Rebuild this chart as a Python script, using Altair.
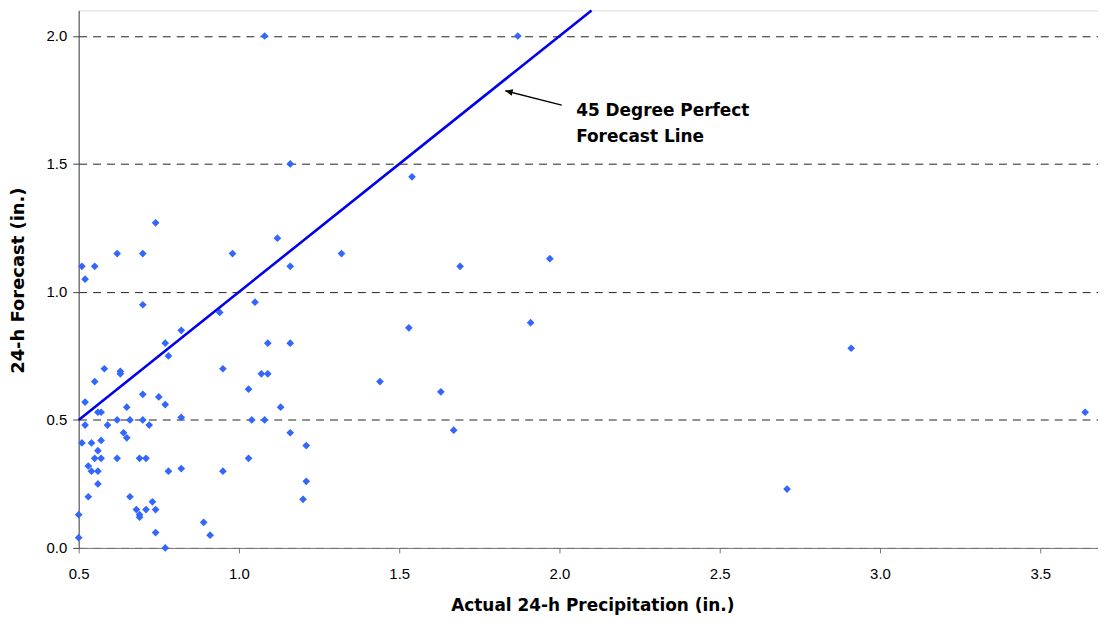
import altair as alt
import pandas as pd

# Scatter values (actual, forecast) in inches
actual = [
    0.62, 0.70, 0.51, 0.55, 0.52, 0.70, 0.82, 0.77, 0.78, 0.58,
    0.63, 0.63, 0.55, 0.52, 0.70, 0.75, 0.77, 0.56, 0.57, 0.65,
    0.82, 0.62, 0.66, 0.70, 0.72, 0.52, 0.59, 0.64, 0.65, 0.51,
    0.54, 0.57, 0.56, 0.55, 0.57, 0.62, 0.69, 0.71, 0.53, 0.54,
    0.56, 0.78, 0.82, 0.56, 0.53, 0.66, 0.50, 0.68, 0.69, 0.69,
    0.71, 0.73, 0.74, 0.74, 0.77, 0.50,
    1.12, 0.98, 1.16, 1.05, 0.94, 1.09, 1.16, 0.95, 1.07, 1.09,
    1.03, 1.13, 1.04, 1.08, 1.16, 1.21, 1.03, 0.95, 1.21, 1.20,
    0.89, 0.91,
    1.08, 1.87, 1.16, 1.54, 0.74, 1.32, 1.97, 1.69, 1.53, 1.91,
    2.91, 1.44, 1.63, 1.67, 2.71, 3.64,
]
forecast = [
    1.15, 1.15, 1.10, 1.10, 1.05, 0.95, 0.85, 0.80, 0.75, 0.70,
    0.69, 0.68, 0.65, 0.57, 0.60, 0.59, 0.56, 0.53, 0.53, 0.55,
    0.51, 0.50, 0.50, 0.50, 0.48, 0.48, 0.48, 0.45, 0.43, 0.41,
    0.41, 0.42, 0.38, 0.35, 0.35, 0.35, 0.35, 0.35, 0.32, 0.30,
    0.30, 0.30, 0.31, 0.25, 0.20, 0.20, 0.13, 0.15, 0.13, 0.12,
    0.15, 0.18, 0.15, 0.06, 0.00, 0.04,
    1.21, 1.15, 1.10, 0.96, 0.92, 0.80, 0.80, 0.70, 0.68, 0.68,
    0.62, 0.55, 0.50, 0.50, 0.45, 0.40, 0.35, 0.30, 0.26, 0.19,
    0.10, 0.05,
    2.00, 2.00, 1.50, 1.45, 1.27, 1.15, 1.13, 1.10, 0.86, 0.88,
    0.78, 0.65, 0.61, 0.46, 0.23, 0.53,
]

# 45-degree perfect forecast line
line_x = [0.5, 2.1]
line_y = [0.5, 2.1]

# Annotation
note_lines = ["45 Degree Perfect", "Forecast Line"]
note_x = [2.052, 2.052]
note_y = [1.708, 1.607]
arrow_tail = (2.007, 1.730)
arrow_tip = (1.831, 1.786)

x_ticks = [0.5, 1.0, 1.5, 2.0, 2.5, 3.0, 3.5]
y_ticks = [0.0, 0.5, 1.0, 1.5, 2.0]

FONT = "Liberation Sans"
BOLD_FONT = "DejaVu Sans"
W, H = 1024, 540
XDOM = [0.5, 0.5 + W / 322.0]
YDOM = [0.0, 2.1]

pts = pd.DataFrame({"actual": actual, "forecast": forecast})
ln = pd.DataFrame({"actual": line_x, "forecast": line_y})
notes = pd.DataFrame({"actual": note_x, "forecast": note_y, "text": note_lines})
arr = pd.DataFrame({"x": [arrow_tail[0]], "y": [arrow_tail[1]],
                    "x2": [arrow_tip[0]], "y2": [arrow_tip[1]]})
head = pd.DataFrame({"x": [arrow_tip[0]], "y": [arrow_tip[1]]})

xscale = alt.Scale(domain=XDOM, nice=False, zero=False)
yscale = alt.Scale(domain=YDOM, nice=False, zero=False)

x_axis = alt.Axis(
    title="Actual 24-h Precipitation (in.)", values=x_ticks, format=".1f",
    grid=False, domainColor="#777", tickColor="#777", tickSize=5,
    labelFont=FONT, labelFontSize=15, labelColor="#000", labelPadding=14,
    labelFlush=False, labelOverlap=False,
    titleFont=BOLD_FONT, titleFontSize=17, titleFontWeight="bold", titleColor="#000",
    titleY=58, titleBaseline="middle", titleX=516,
)
y_axis = alt.Axis(
    title="24-h Forecast (in.)", values=y_ticks, format=".1f",
    grid=True, gridDash=[8, 6], gridColor="#222", gridWidth=1,
    domainColor="#444", tickColor="#444", tickSize=6,
    labelFont=FONT, labelFontSize=15, labelColor="#000", labelPadding=6,
    labelFlush=False, labelOverlap=False,
    titleFont=BOLD_FONT, titleFontSize=18, titleFontWeight="bold", titleColor="#000",
    titleX=-60, titleY=271, titleBaseline="middle", titleAlign="center",
)

points = alt.Chart(pts).mark_point(
    shape="diamond", filled=True, size=60, color="#3366ff", opacity=1
).encode(
    x=alt.X("actual:Q", scale=xscale, axis=x_axis),
    y=alt.Y("forecast:Q", scale=yscale, axis=y_axis),
)

perfect = alt.Chart(ln).mark_line(color="#0000ee", strokeWidth=2.6).encode(
    x=alt.X("actual:Q", scale=xscale),
    y=alt.Y("forecast:Q", scale=yscale),
)

text = alt.Chart(notes).mark_text(
    font=BOLD_FONT, fontSize=17, fontWeight="bold", align="left",
    baseline="middle", color="#000"
).encode(
    x=alt.X("actual:Q", scale=xscale),
    y=alt.Y("forecast:Q", scale=yscale),
    text="text:N",
)

arrow_line = alt.Chart(arr).mark_rule(color="#000", strokeWidth=1.5).encode(
    x=alt.X("x:Q", scale=xscale), y=alt.Y("y:Q", scale=yscale),
    x2="x2:Q", y2="y2:Q",
)
arrow_head = alt.Chart(head).mark_point(
    shape="M0,0 L1,-0.45 L1,0.45 Z", filled=True, color="#000",
    size=220, angle=14, opacity=1
).encode(
    x=alt.X("x:Q", scale=xscale), y=alt.Y("y:Q", scale=yscale),
)

chart = alt.layer(points, perfect, arrow_line, arrow_head, text).properties(
    width=W, height=H,
    autosize=alt.AutoSizeParams(type="none"),
    padding={"left": 71, "top": 1, "right": 0, "bottom": 70},
).configure_view(stroke=None).configure(background="white")

chart.save("out.html", embed_options={"renderer": "svg", "actions": False})
